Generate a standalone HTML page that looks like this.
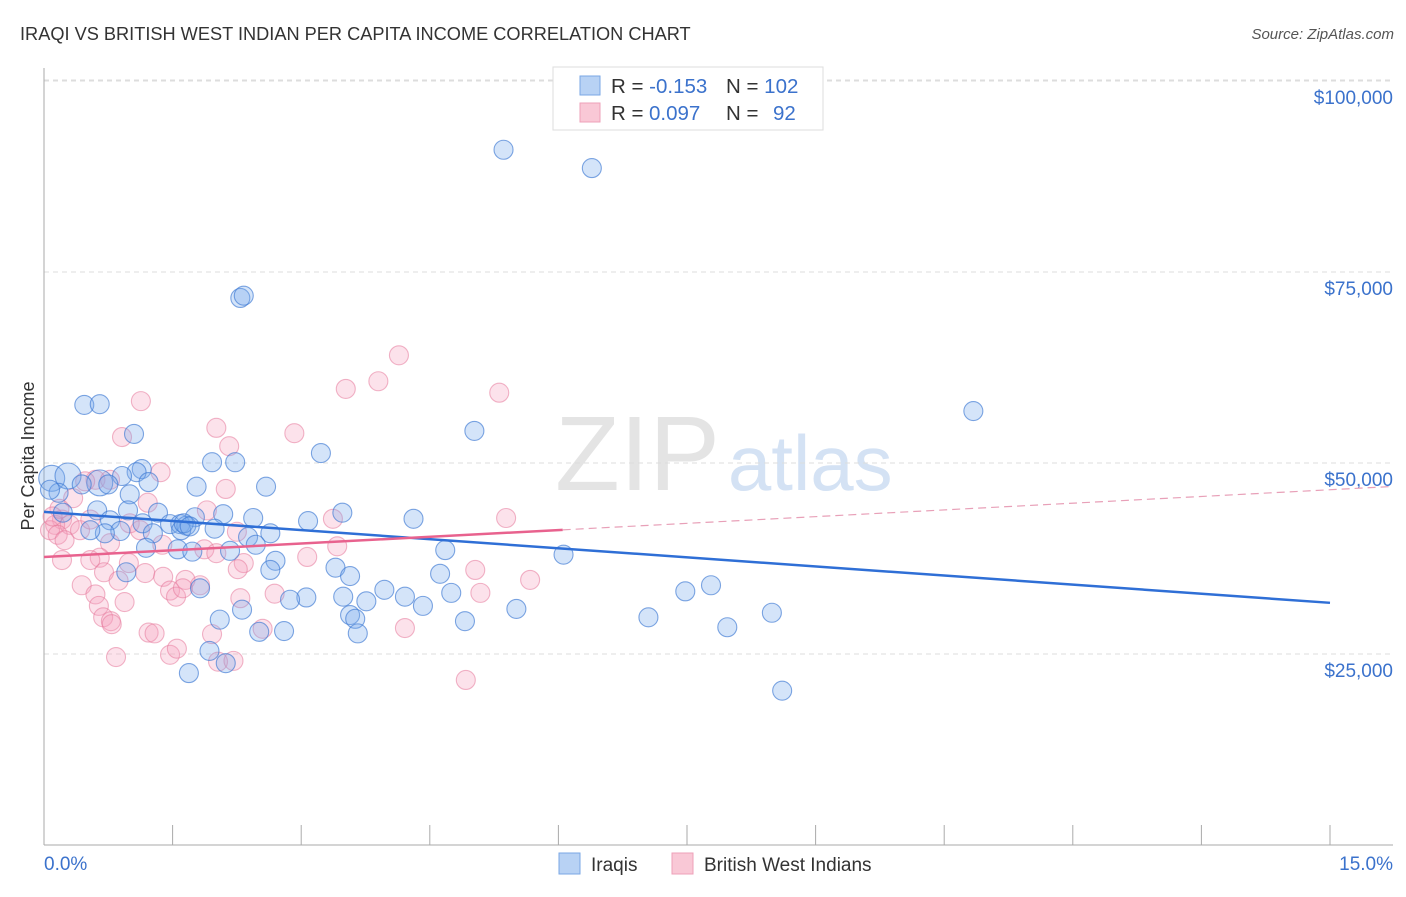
<!DOCTYPE html>
<html><head><meta charset="utf-8">
<style>
body{margin:0;background:#fff;font-family:"Liberation Sans",sans-serif;}
svg text{font-family:"Liberation Sans",sans-serif;}
</style></head>
<body>
<svg id="chart" width="1406" height="892">
<text x="20" y="40" font-size="18.2" fill="#333">IRAQI VS BRITISH WEST INDIAN PER CAPITA INCOME CORRELATION CHART</text>
<text x="1394" y="39" font-size="15" fill="#555" text-anchor="end" font-style="italic">Source: ZipAtlas.com</text>
<text x="555" y="490" font-size="106" fill="#e4e4e4" font-family="Liberation Serif">ZIP<tspan fill="#d4e2f4" font-family="Liberation Sans" font-size="78" dx="8">atlas</tspan></text>
<g id="grid"></g>
<g id="axes"></g>
<g id="pts"></g>
<g id="trend"></g>
<text transform="translate(34,456) rotate(-90)" font-size="18" fill="#333" text-anchor="middle">Per Capita Income</text>
<g>
<rect x="553" y="67" width="270" height="63" fill="#fff" stroke="#ddd"/>
<rect x="580" y="76" width="20" height="19" fill="#b8d2f4" stroke="#7aa7e4"/>
<rect x="580" y="103" width="20" height="19" fill="#f9c8d6" stroke="#eea0b8"/>
<text x="611" y="93" font-size="20.5" fill="#333">R = <tspan fill="#3b72cc">-0.153</tspan><tspan x="726">N = </tspan><tspan fill="#3b72cc">102</tspan></text>
<text x="611" y="120" font-size="20.5" fill="#333">R = <tspan fill="#3b72cc" x="649">0.097</tspan><tspan x="726">N = </tspan><tspan fill="#3b72cc" x="773">92</tspan></text>
</g>
<g>
<rect x="559" y="853" width="21" height="21" fill="#b8d2f4" stroke="#7aa7e4"/>
<text x="591" y="871" font-size="19" fill="#333">Iraqis</text>
<rect x="672" y="853" width="21" height="21" fill="#f9c8d6" stroke="#eea0b8"/>
<text x="704" y="871" font-size="19" fill="#333">British West Indians</text>
</g>
</svg>
<script>
const yTicks=[25000,50000,75000,100000];
const yTickLabels=["$25,000","$50,000","$75,000","$100,000"];
const xTicks=[0,1.5,3,4.5,6,7.5,9,10.5,12,13.5,15];
const blueX=[5.36,6.39,2.29,2.33,10.84,0.47,0.65,5.02,1.05,3.23,1.96,2.23,1.14,1.08,0.91,1.22,2.59,1.78,0.09,0.28,0.65,0.75,0.44,1.0,0.17,0.07,4.31,3.48,1.33,2.09,0.62,0.98,0.22,1.76,2.44,3.08,0.77,1.15,1.47,1.59,1.66,1.6,1.99,0.89,0.71,0.54,2.64,2.38,1.27,4.68,6.06,1.56,1.19,1.73,2.47,2.17,2.7,3.40,2.64,3.57,4.62,0.96,3.97,4.21,4.75,7.48,7.78,3.49,3.06,2.87,3.76,4.42,5.51,2.31,1.82,3.57,3.63,4.91,7.05,8.49,2.05,7.97,2.80,2.51,3.66,1.93,2.12,1.69,8.61,1.63,1.70];
const blueY=[91.0,88.6,71.6,71.9,56.8,57.6,57.7,54.2,53.8,51.3,50.1,50.1,49.2,48.8,48.3,47.5,46.9,46.9,48.0,48.3,47.4,47.2,47.2,45.9,46.1,46.5,42.7,43.5,43.5,43.3,43.8,43.8,43.5,42.9,42.8,42.4,42.5,42.1,42.0,42.0,41.8,41.2,41.4,41.1,40.8,41.2,40.8,40.3,40.8,38.6,38.0,38.7,38.9,38.4,39.3,38.5,37.2,36.3,36.0,35.2,35.5,35.7,33.4,32.5,33.0,33.2,34.0,32.5,32.4,32.1,31.9,31.3,30.9,30.8,33.6,30.1,29.6,29.3,29.8,30.4,29.5,28.5,28.0,27.9,27.7,25.4,23.8,22.5,20.2,42.1,41.7];
const pinkX=[4.14,3.90,3.52,5.31,1.13,2.01,2.92,0.91,2.16,1.36,0.60,0.48,0.77,2.12,1.90,1.21,0.34,5.39,3.37,0.21,0.13,0.30,0.07,0.16,0.24,0.42,0.54,1.0,2.25,1.12,0.77,1.38,3.42,1.87,2.01,3.07,0.21,0.65,0.54,0.99,2.33,5.03,2.26,0.70,1.18,1.39,1.65,1.82,1.47,1.54,1.62,5.67,0.44,0.87,2.69,5.09,2.29,0.60,0.64,0.94,0.69,0.78,0.79,1.22,1.29,2.55,4.21,1.96,1.47,1.55,0.84,2.03,2.21,4.92,0.18,0.10];
const pinkY=[64.1,60.7,59.7,59.2,58.1,54.6,53.9,53.4,52.2,48.8,47.8,47.6,47.8,46.6,43.8,44.8,45.4,42.8,42.7,42.6,41.9,41.9,41.2,40.6,39.9,41.2,42.6,42.1,41.0,41.2,39.5,39.3,39.1,38.7,38.2,37.7,37.3,37.6,37.3,36.9,36.9,36.0,36.1,35.7,35.6,35.1,34.7,34.0,33.3,32.5,33.6,34.7,34.0,34.6,32.9,33.0,32.3,32.8,31.3,31.8,29.8,29.3,28.9,27.8,27.7,28.3,28.4,27.6,24.9,25.7,24.6,24.0,24.1,21.6,44.0,43.0];
const blueBig=[18,19,20];
const blueTrend=[43.6,31.7];
const pinkTrend=[37.7,46.5];

const X0=44,X1=1330,Y0=845,PXPER=191/25000;
const sx=v=>X0+(v/15)*(X1-X0);
const sy=v=>Y0-v*PXPER;
const NS="http://www.w3.org/2000/svg";
function mk(tag,attrs,parent){const e=document.createElementNS(NS,tag);for(const k in attrs)e.setAttribute(k,attrs[k]);parent.appendChild(e);return e;}
const grid=document.getElementById('grid'),axes=document.getElementById('axes'),pts=document.getElementById('pts'),trend=document.getElementById('trend');
yTicks.forEach((t,i)=>{
 const l=mk('line',{x1:X0,x2:1393,y1:sy(t),y2:sy(t),stroke:'#ddd','stroke-dasharray':'5,4'},grid);
 
 
 const tx=mk('text',{x:1393,y:sy(t)+23,'font-size':19,fill:'#3b72cc','text-anchor':'end'},axes);
 tx.textContent=yTickLabels[i];
 
 
});
const tg=mk('line',{x1:X0,x2:1393,y1:80,y2:80,stroke:'#ddd','stroke-dasharray':'5,4'},grid);


const ya=mk('line',{x1:X0,x2:X0,y1:68,y2:Y0,stroke:'#aaa'},axes);


const xa=mk('line',{x1:X0,x2:1393,y1:Y0,y2:Y0,stroke:'#aaa'},axes);


xTicks.forEach(t=>{
 const l=mk('line',{x1:sx(t),x2:sx(t),y1:Y0,y2:Y0-20,stroke:'#aaa'},axes);
 
 
});
const xl0=mk('text',{x:X0,y:870,'font-size':19,fill:'#3b72cc'},axes);xl0.textContent='0.0%';


const xl1=mk('text',{x:1393,y:870,'font-size':19,fill:'#3b72cc','text-anchor':'end'},axes);xl1.textContent='15.0%';


pinkX.forEach((x,i)=>{
 const c=mk('circle',{cx:sx(x),cy:sy(pinkY[i]*1000),r:9.5,fill:'rgba(244,160,188,0.3)',stroke:'rgba(230,120,155,0.55)','stroke-width':1.1},pts);
 
 
});
blueX.forEach((x,i)=>{
 const c=mk('circle',{cx:sx(x),cy:sy(blueY[i]*1000),r:blueBig.includes(i)?13:9.5,fill:'rgba(120,170,235,0.32)',stroke:'rgba(60,120,210,0.65)','stroke-width':1.1},pts);
 
 
});
const bl=mk('line',{x1:sx(0),x2:sx(15),y1:sy(blueTrend[0]*1000),y2:sy(blueTrend[1]*1000),stroke:'#2f6fd6','stroke-width':2.5},trend);


const pAt=x=>pinkTrend[0]+(pinkTrend[1]-pinkTrend[0])*x/15;
const pl=mk('line',{x1:sx(0),x2:sx(6.05),y1:sy(pAt(0)*1000),y2:sy(pAt(6.05)*1000),stroke:'#e8628e','stroke-width':2.5},trend);


const pd=mk('line',{x1:sx(6.05),x2:1393,y1:sy(pAt(6.05)*1000),y2:sy(pAt((1393-X0)/(X1-X0)*15)*1000),stroke:'#e8a0b8','stroke-width':1.2,'stroke-dasharray':'8,5'},trend);


</script>
</body></html>
